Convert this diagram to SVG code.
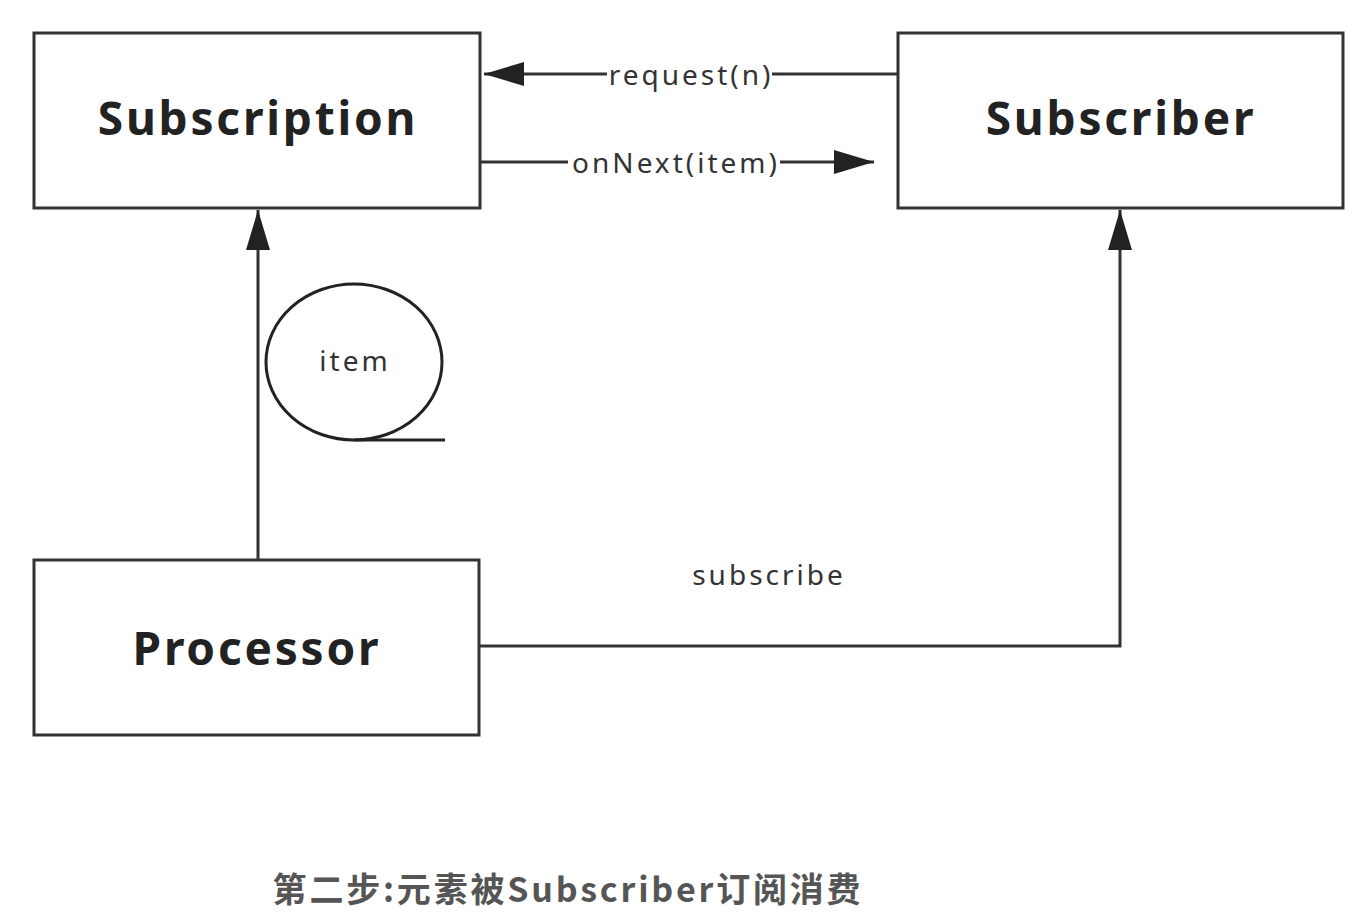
<svg xmlns="http://www.w3.org/2000/svg" width="1352" height="921" viewBox="0 0 1352 921">
<style>
.box{fill:#fff;stroke:#333;stroke-width:3}
.title{font-family:"Noto Sans","Open Sans","DejaVu Sans",sans-serif;font-weight:bold;font-size:46px;letter-spacing:2.8px;fill:#222;text-anchor:middle}
.lbl{font-family:"Noto Sans","Open Sans","DejaVu Sans",sans-serif;font-size:28px;letter-spacing:3px;fill:#333;text-anchor:middle}
.line{fill:none;stroke:#333;stroke-width:3}
</style>
<defs>
<marker id="arrBig" viewBox="0 0 40 24" refX="40" refY="12" markerWidth="40" markerHeight="24" markerUnits="userSpaceOnUse" orient="auto">
<path d="M0,0 L40,12 L0,24 Z" fill="#222"/>
</marker>
</defs>
<rect width="1352" height="921" fill="#fff"/>
<g id="connectors">
<line class="line" x1="898" y1="74" x2="484" y2="74" marker-end="url(#arrBig)"/>
<line class="line" x1="480" y1="162" x2="874" y2="162" marker-end="url(#arrBig)"/>
<line class="line" x1="258" y1="560" x2="258" y2="210" marker-end="url(#arrBig)"/>
<polyline class="line" points="480,646 1120,646 1120,210" marker-end="url(#arrBig)"/>
<rect x="607" y="58" width="165" height="34" fill="#fff"/>
<text class="lbl" x="691" y="85">request(n)</text>
<rect x="568" y="146" width="212" height="34" fill="#fff"/>
<text class="lbl" x="676" y="173">onNext(item)</text>
<text class="lbl" x="769" y="585">subscribe</text>
</g>
<g id="subscription">
<rect class="box" x="34" y="33" width="446" height="175"/>
<text class="title" x="258" y="135">Subscription</text>
</g>
<g id="subscriber">
<rect class="box" x="898" y="33" width="445" height="175"/>
<text class="title" x="1121" y="135">Subscriber</text>
</g>
<g id="processor">
<rect class="box" x="34" y="560" width="445" height="175"/>
<text class="title" x="257" y="665">Processor</text>
</g>
<g id="item">
<ellipse cx="354" cy="362" rx="88" ry="78" fill="none" stroke="#222" stroke-width="3"/>
<line x1="354" y1="440" x2="445" y2="440" stroke="#222" stroke-width="3"/>
<text class="lbl" x="355" y="371">item</text>
</g>
<g id="caption">
<text x="568" y="902" font-family="'Noto Sans CJK SC',sans-serif" font-weight="bold" font-size="34" letter-spacing="2.8" fill="#555" text-anchor="middle">第二步:元素被Subscriber订阅消费</text>
</g>
</svg>
